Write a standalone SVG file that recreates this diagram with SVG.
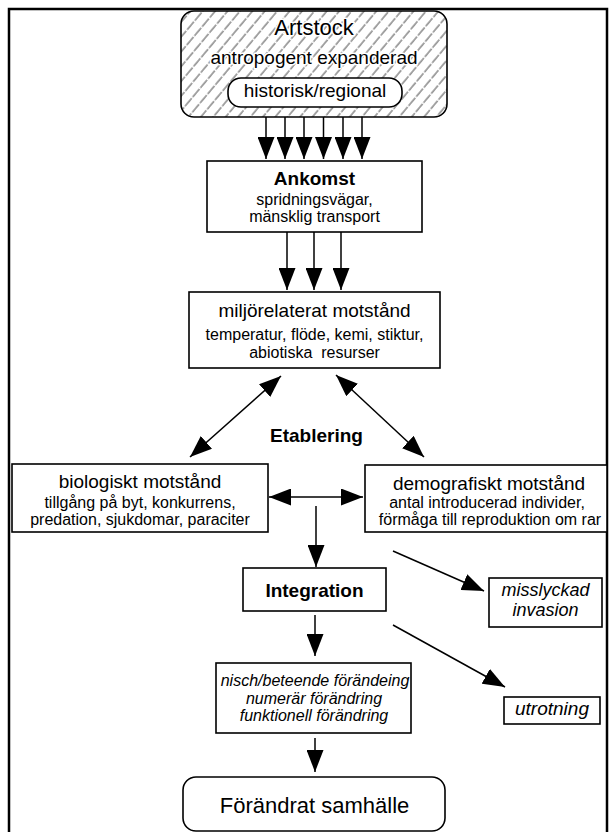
<svg xmlns="http://www.w3.org/2000/svg" width="616" height="832" viewBox="0 0 616 832">
<style>
text{font-family:"Liberation Sans",Arial,sans-serif;fill:#000;text-anchor:middle}
.box{fill:#fff;stroke:#000;stroke-width:1.6}
.h{font-size:19px}
.s{font-size:16px}
.b{font-weight:bold}
.i{font-style:italic}
.halo{stroke:#fff;stroke-width:3;paint-order:stroke;stroke-linejoin:round}
.c line{stroke:#000;stroke-width:1.5;fill:none}
.one{marker-end:url(#ah)}
.two{marker-end:url(#ah);marker-start:url(#ah)}
</style>
<defs>
<pattern id="hatch" patternUnits="userSpaceOnUse" width="9.5" height="12" patternTransform="rotate(40)">
<rect width="9.5" height="12" fill="#fff"/>
<line x1="1" y1="0" x2="1" y2="10.5" stroke="#333" stroke-width="0.9"/>
</pattern>
<marker id="ah" markerUnits="userSpaceOnUse" markerWidth="22" markerHeight="17" refX="22" refY="8.5" orient="auto-start-reverse">
<path d="M0,0 L22,8.5 L0,17 Z" fill="#000"/>
</marker>
</defs>
<rect x="9" y="9" width="598" height="830" fill="#fff" stroke="#000" stroke-width="2.5"/>

<g id="artstock">
<rect x="181" y="11" width="266" height="106" rx="13" fill="url(#hatch)" stroke="#000" stroke-width="1.6"/>
<text class="halo" x="314" y="35" style="font-size:22px">Artstock</text>
<text class="h halo" x="314" y="64">antropogent expanderad</text>
<rect class="box" x="228" y="78" width="174" height="29" rx="13"/>
<text class="h" x="315" y="97">historisk/regional</text>
</g>

<g id="ankomst">
<rect class="box" x="207" y="161" width="215" height="71"/>
<text class="h b" x="314.5" y="185">Ankomst</text>
<text class="s" x="314.5" y="205">spridningsvägar,</text>
<text class="s" x="314.5" y="222">mänsklig transport</text>
</g>

<g id="miljo">
<rect class="box" x="189" y="292" width="251" height="76"/>
<text class="h" x="314.5" y="317">miljörelaterat motstånd</text>
<text class="s" x="314.5" y="340">temperatur, flöde, kemi, stiktur,</text>
<text class="s" x="314.5" y="358" xml:space="preserve">abiotiska  resurser</text>
</g>

<g id="etablering">
<text class="h b" x="316.5" y="442">Etablering</text>
</g>

<g id="biologiskt">
<rect class="box" x="12" y="464" width="256" height="68"/>
<text class="h" x="140" y="488">biologiskt motstånd</text>
<text class="s" x="140" y="508">tillgång på byt, konkurrens,</text>
<text class="s" x="140" y="525">predation, sjukdomar, paraciter</text>
</g>

<g id="demografiskt">
<rect class="box" x="365" y="465" width="242" height="67"/>
<text class="h" x="489" y="490">demografiskt motstånd</text>
<text class="s" x="487" y="508">antal introducerad individer,</text>
<text class="s" x="490" y="525">förmåga till reproduktion om rar</text>
</g>

<g id="integration">
<rect class="box" x="243" y="568" width="143" height="43"/>
<text class="h b" x="314.5" y="597">Integration</text>
</g>

<g id="misslyckad">
<rect class="box" x="489" y="578" width="113" height="49"/>
<text class="i" x="545.5" y="596" style="font-size:18px">misslyckad</text>
<text class="i" x="545.5" y="616" style="font-size:18px">invasion</text>
</g>

<g id="utrotning">
<rect class="box" x="504" y="697" width="96" height="27"/>
<text class="h i" x="552" y="715">utrotning</text>
</g>

<g id="forandring">
<rect class="box" x="216" y="663" width="195" height="70"/>
<text class="s i" x="315" y="686">nisch/beteende förändeing</text>
<text class="s i" x="314" y="703.5">numerär förändring</text>
<text class="s i" x="314" y="721">funktionell förändring</text>
</g>

<g id="samhalle">
<rect class="box" x="183" y="777" width="262" height="54" rx="13"/>
<text x="314.5" y="813" style="font-size:22px">Förändrat samhälle</text>
</g>

<g id="connectors" class="c">
<line class="one" x1="266" y1="117" x2="266" y2="159"/>
<line class="one" x1="285" y1="117" x2="285" y2="159"/>
<line class="one" x1="304" y1="117" x2="304" y2="159"/>
<line class="one" x1="323.5" y1="117" x2="323.5" y2="159"/>
<line class="one" x1="343" y1="117" x2="343" y2="159"/>
<line class="one" x1="362" y1="117" x2="362" y2="159"/>
<line class="one" x1="287" y1="232" x2="287" y2="290"/>
<line class="one" x1="314" y1="232" x2="314" y2="290"/>
<line class="one" x1="341" y1="232" x2="341" y2="290"/>
<line class="two" x1="281" y1="376" x2="190" y2="457"/>
<line class="two" x1="336" y1="375" x2="424" y2="457"/>
<line class="two" x1="269" y1="497" x2="363" y2="497"/>
<line class="one" x1="316" y1="506" x2="316" y2="567"/>
<line class="one" x1="393" y1="551" x2="484" y2="591"/>
<line class="one" x1="393" y1="625" x2="505" y2="687"/>
<line class="one" x1="315" y1="615" x2="315" y2="656"/>
<line class="one" x1="315" y1="738" x2="315" y2="772"/>
</g>
</svg>
